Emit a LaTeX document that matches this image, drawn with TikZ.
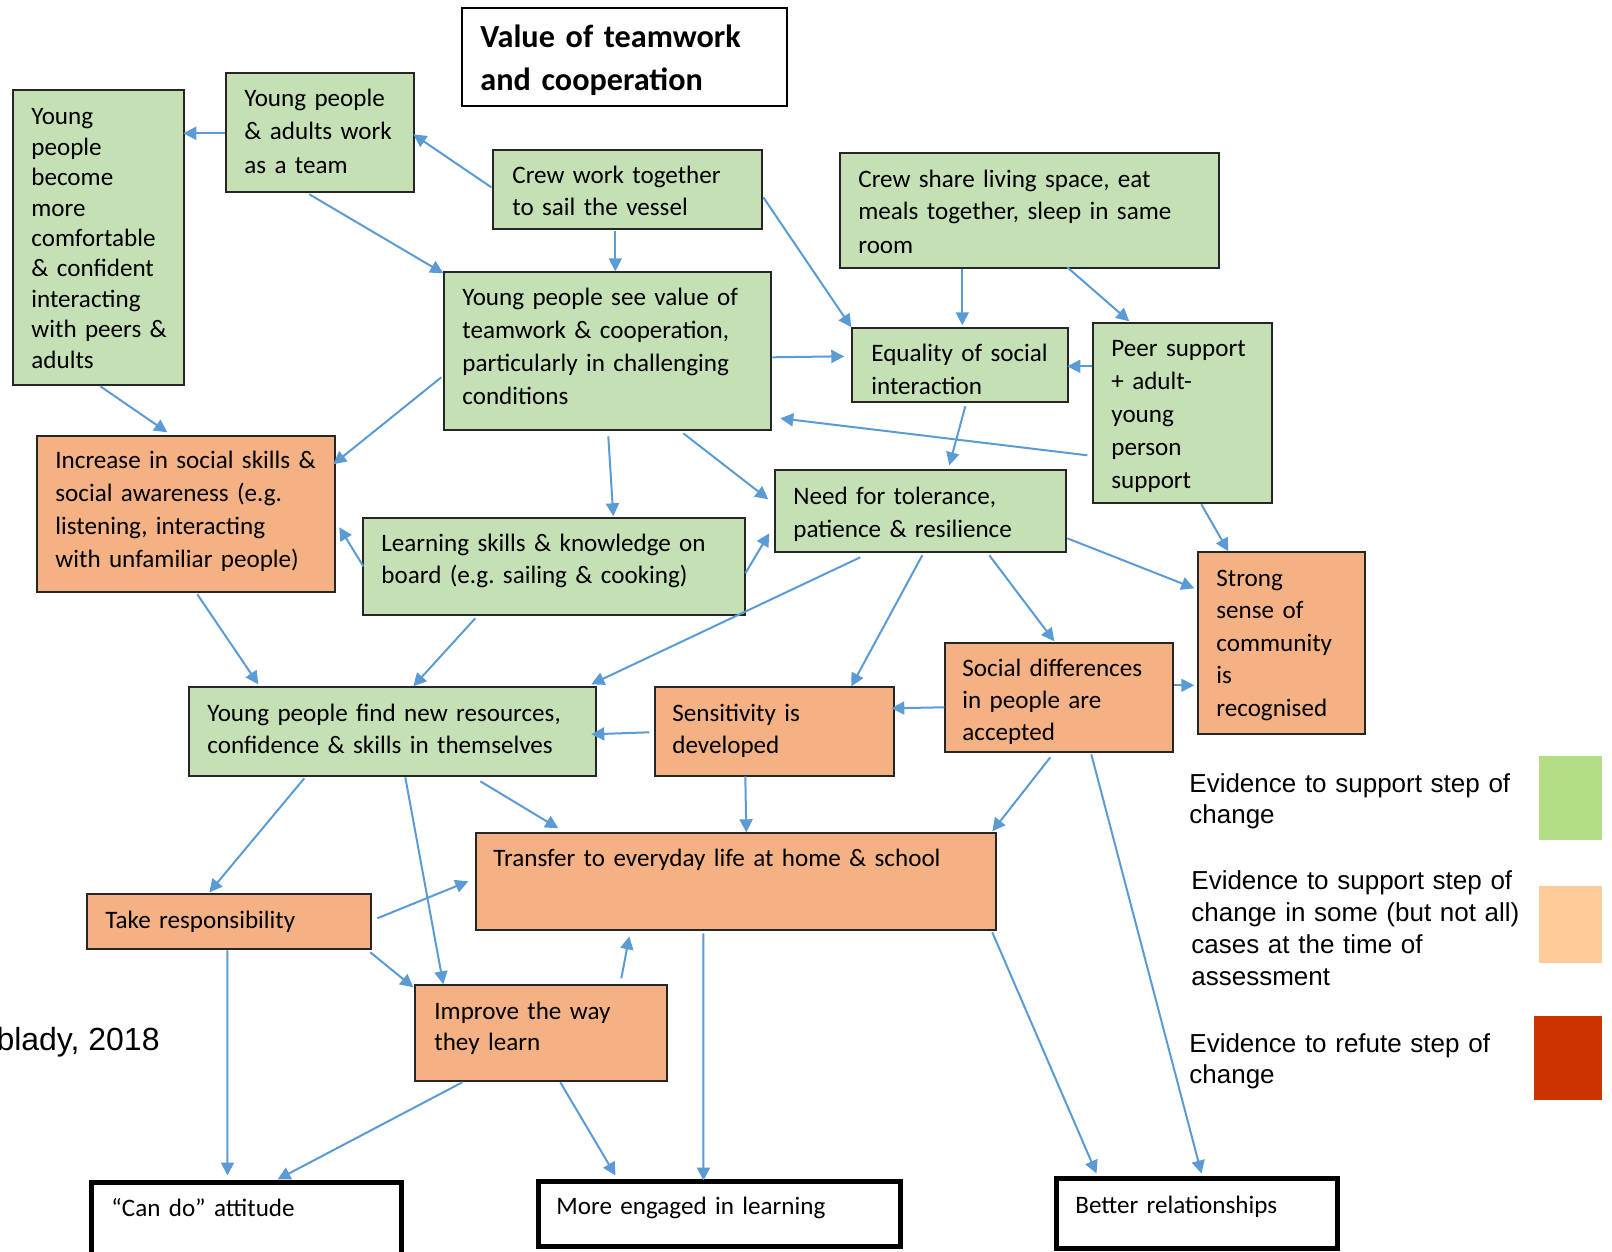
\documentclass[tikz,border=0pt]{standalone}
\usepackage{fontspec}
\setmainfont{Carlito}
\newfontfamily\arialf{Liberation Sans}
\usetikzlibrary{fit,calc,arrows.meta}
\definecolor{cgreen}{HTML}{C5E0B4}
\definecolor{corange}{HTML}{F4B183}
\definecolor{carrow}{HTML}{5B9BD5}
\definecolor{lgreen}{HTML}{B4DE86}
\definecolor{lpeach}{HTML}{FFCC99}
\definecolor{lred}{HTML}{CC3300}
\frenchspacing
\begin{document}
\begin{tikzpicture}[x=0.5pt,y=-0.5pt,
  boxbase/.style={draw=black!85, line width=0.7pt, inner sep=0pt, fit={#1}},
  greenbox/.style={boxbase={#1}, fill=cgreen},
  orangebox/.style={boxbase={#1}, fill=corange},
  thickbox/.style={draw=black, line width=2.5pt, inner sep=0pt, fit={#1}},
  legsq/.style={inner sep=0pt, fit={#1}},
  txt/.style={anchor=base west, inner sep=0pt, text width=260pt, align=left,
    font=\fontsize{12.55pt}{#1}\selectfont},
  txt/.default=16.5pt,
  legtxt/.style={anchor=base west, inner sep=0pt, text width=200pt, align=left,
    font=\arialf\fontsize{13.0pt}{#1}\selectfont},
  arr/.style={draw=carrow, line width=1pt, -{Triangle[length=6.5pt,width=6.5pt]}}
]
\useasboundingbox (0,0) rectangle (1612,1252);

% title
\node[boxbase={(462,8) (787,106)}, line width=1pt, draw=black] (title) {};
\node[anchor=base west, inner sep=0pt, text width=300pt, align=left,
  font=\bfseries\fontsize{16.1pt}{21pt}\selectfont] (titleT) at (480,48) {Value of teamwork\\and cooperation};

% boxes
\node[greenbox={(13,90) (184,385)}] (A) {};
\node[greenbox={(226,73) (414,192)}] (B) {};
\node[greenbox={(493,150) (762,229)}] (C) {};
\node[greenbox={(444,272) (771,430)}] (D) {};
\node[greenbox={(840,153) (1219,268)}] (E) {};
\node[greenbox={(852,328) (1068,402)}] (F) {};
\node[greenbox={(1093,323) (1272,503)}] (G) {};
\node[greenbox={(775,470) (1066,552)}] (H) {};
\node[orangebox={(37,436) (335,592)}] (I) {};
\node[greenbox={(363,518) (745,615)}] (J) {};
\node[greenbox={(189,687) (596,776)}] (K) {};
\node[orangebox={(655,687) (894,776)}] (L) {};
\node[orangebox={(476,833) (996,930)}] (M) {};
\node[orangebox={(1198,552) (1365,734)}] (N) {};
\node[orangebox={(945,643) (1173,752)}] (O) {};
\node[orangebox={(87,894) (371,949)}] (P) {};
\node[orangebox={(415,985) (667,1081)}] (Q) {};
\node[thickbox={(91,1182) (401,1275)}] (CanDo) {};
\node[thickbox={(538,1181) (900,1246)}] (More) {};
\node[thickbox={(1056,1178) (1337,1248)}] (Better) {};

% texts
\node[txt=15.2pt] (At) at (31,125) {Young\\people\\become\\more\\comfortable\\\& confident\\interacting\\with peers \&\\adults};
\node[txt] (Bt) at (244,107) {Young people\\\& adults work\\as a team};
\node[txt=16pt] (Ct) at (512,184) {Crew work together\\to sail the vessel};
\node[txt=16.6pt] (Dt) at (462,305) {Young people see value of\\teamwork \& cooperation,\\particularly in challenging\\conditions};
\node[txt] (Et) at (858,187) {Crew share living space, eat\\meals together, sleep in same\\room};
\node[txt] (Ft) at (871,361) {Equality of social\\interaction};
\node[txt] (Gt) at (1111,356) {Peer support\\+ adult-\\young\\person\\support};
\node[txt] (Ht) at (793,504) {Need for tolerance,\\patience \& resilience};
\node[txt=16.6pt] (It) at (55,468) {Increase in social skills \&\\social awareness (e.g.\\listening, interacting\\with unfamiliar people)};
\node[txt=16pt] (Jt) at (381,551) {Learning skills \& knowledge on\\board (e.g. sailing \& cooking)};
\node[txt=16pt] (Kt) at (207,721) {Young people find new resources,\\confidence \& skills in themselves};
\node[txt=16pt] (Lt) at (672,721) {Sensitivity is\\developed};
\node[txt] (Mt) at (493,866) {Transfer to everyday life at home \& school};
\node[txt=16.3pt] (Nt) at (1216,586) {Strong\\sense of\\community\\is\\recognised};
\node[txt=16.2pt] (Ot) at (962,676) {Social differences\\in people are\\accepted};
\node[txt] (Pt) at (105,928) {Take responsibility};
\node[txt=15.5pt] (Qt) at (434,1019) {Improve the way\\they learn};
\node[txt] (CanDot) at (111,1216) {“Can do” attitude};
\node[txt] (Moret) at (556,1214) {More engaged in learning};
\node[txt] (Bettert) at (1075,1213) {Better relationships};

% legend
\node[legsq={(1539,756) (1602,840)}, fill=lgreen] (Lg) {};
\node[legsq={(1539,886) (1602,963)}, fill=lpeach] (Lp) {};
\node[legsq={(1534,1016) (1602,1100)}, fill=lred] (Lr) {};
\node[legtxt=15.5pt] (Lgt) at (1189,792) {Evidence to support step of\\change};
\node[legtxt=16pt] (Lpt) at (1191,889) {Evidence to support step of\\change in some (but not all)\\cases at the time of\\assessment};
\node[legtxt=15.5pt] (Lrt) at (1189,1052) {Evidence to refute step of\\change};
\node[anchor=base east, inner sep=0pt, font=\arialf\fontsize{16pt}{19pt}\selectfont] (src) at (160,1050) {blady, 2018};

% arrows
\draw[arr] ($(B.north west)+(0,61)$) -- ($(A.north west)+(171,44)$);
\draw[arr] ($(C.north west)+(-1,38)$) -- ($(B.north west)+(188,62)$);
\draw[arr] ($(B.north west)+(84,122)$) -- ($(D.north west)+(0,2)$);
\draw[arr] ($(C.north west)+(123,82)$) -- ($(D.north west)+(172,0)$);
\draw[arr] ($(C.north west)+(271,48)$) -- ($(F.north west)+(0,0)$);
\draw[arr] ($(E.north west)+(123,117)$) -- ($(F.north west)+(111,-2)$);
\draw[arr] ($(E.north west)+(228,115)$) -- ($(G.north west)+(37,-1)$);
\draw[arr] ($(D.north west)+(329,86)$) -- ($(F.north west)+(-7,29)$);
\draw[arr] ($(G.north west)+(0,44)$) -- ($(F.north west)+(216,39)$);
\draw[arr] ($(G.north west)+(-5,133)$) -- ($(D.north west)+(337,147)$);
\draw[arr] ($(F.north west)+(114,79)$) -- ($(H.north west)+(175,-4)$);
\draw[arr] ($(G.north west)+(109,182)$) -- ($(N.north west)+(31,0)$);
\draw[arr] ($(D.north west)+(-2,106)$) -- ($(I.north west)+(297,29)$);
\draw[arr] ($(A.north west)+(88,297)$) -- ($(I.north west)+(131,-3)$);
\draw[arr] ($(D.north west)+(165,165)$) -- ($(J.north west)+(251,-1)$);
\draw[arr] ($(D.north west)+(240,162)$) -- ($(H.north west)+(-6,30)$);
\draw[arr] ($(J.north west)+(1,49)$) -- ($(I.north west)+(303,92)$);
\draw[arr] ($(J.north west)+(383,56)$) -- ($(H.north west)+(-5,64)$);
\draw[arr] ($(I.north west)+(161,159)$) -- ($(K.north west)+(70,-2)$);
\draw[arr] ($(J.north west)+(113,101)$) -- ($(K.north west)+(225,0)$);
\draw[arr] ($(H.north west)+(86,88)$) -- ($(K.north west)+(403,-2)$);
\draw[arr] ($(L.north west)+(-5,46)$) -- ($(K.north west)+(403,48)$);
\draw[arr] ($(H.north west)+(148,86)$) -- ($(L.north west)+(197,0)$);
\draw[arr] ($(H.north west)+(215,86)$) -- ($(O.north west)+(110,-1)$);
\draw[arr] ($(H.north west)+(293,69)$) -- ($(N.north west)+(-3,37)$);
\draw[arr] ($(O.north west)+(0,65)$) -- ($(L.north west)+(237,22)$);
\draw[arr] ($(O.north west)+(230,43)$) -- ($(N.north west)+(-3,134)$);
\draw[arr] ($(O.north west)+(106,115)$) -- ($(M.north west)+(517,-1)$);
\draw[arr] ($(O.north west)+(147,112)$) -- ($(Better.north west)+(148,-2)$);
\draw[arr] ($(M.north west)+(517,100)$) -- ($(Better.north west)+(43,-2)$);
\draw[arr] ($(L.north west)+(91,90)$) -- ($(M.north west)+(271,0)$);
\draw[arr] ($(K.north west)+(292,95)$) -- ($(M.north west)+(83,-4)$);
\draw[arr] ($(K.north west)+(116,92)$) -- ($(P.north west)+(123,-1)$);
\draw[arr] ($(K.north west)+(217,91)$) -- ($(Q.north west)+(29,0)$);
\draw[arr] ($(P.north west)+(291,25)$) -- ($(M.north west)+(-7,49)$);
\draw[arr] ($(P.north west)+(284,59)$) -- ($(Q.north west)+(-1,3)$);
\draw[arr] ($(P.north west)+(141,57)$) -- ($(CanDo.north west)+(139,-4)$);
\draw[arr] ($(Q.north west)+(207,-6)$) -- ($(M.north west)+(154,104)$);
\draw[arr] ($(Q.north west)+(48,98)$) -- ($(CanDo.north west)+(189,0)$);
\draw[arr] ($(Q.north west)+(146,98)$) -- ($(More.north west)+(80,-3)$);
\draw[arr] ($(M.north west)+(228,101)$) -- ($(More.north west)+(168,2)$);
\end{tikzpicture}
\end{document}
